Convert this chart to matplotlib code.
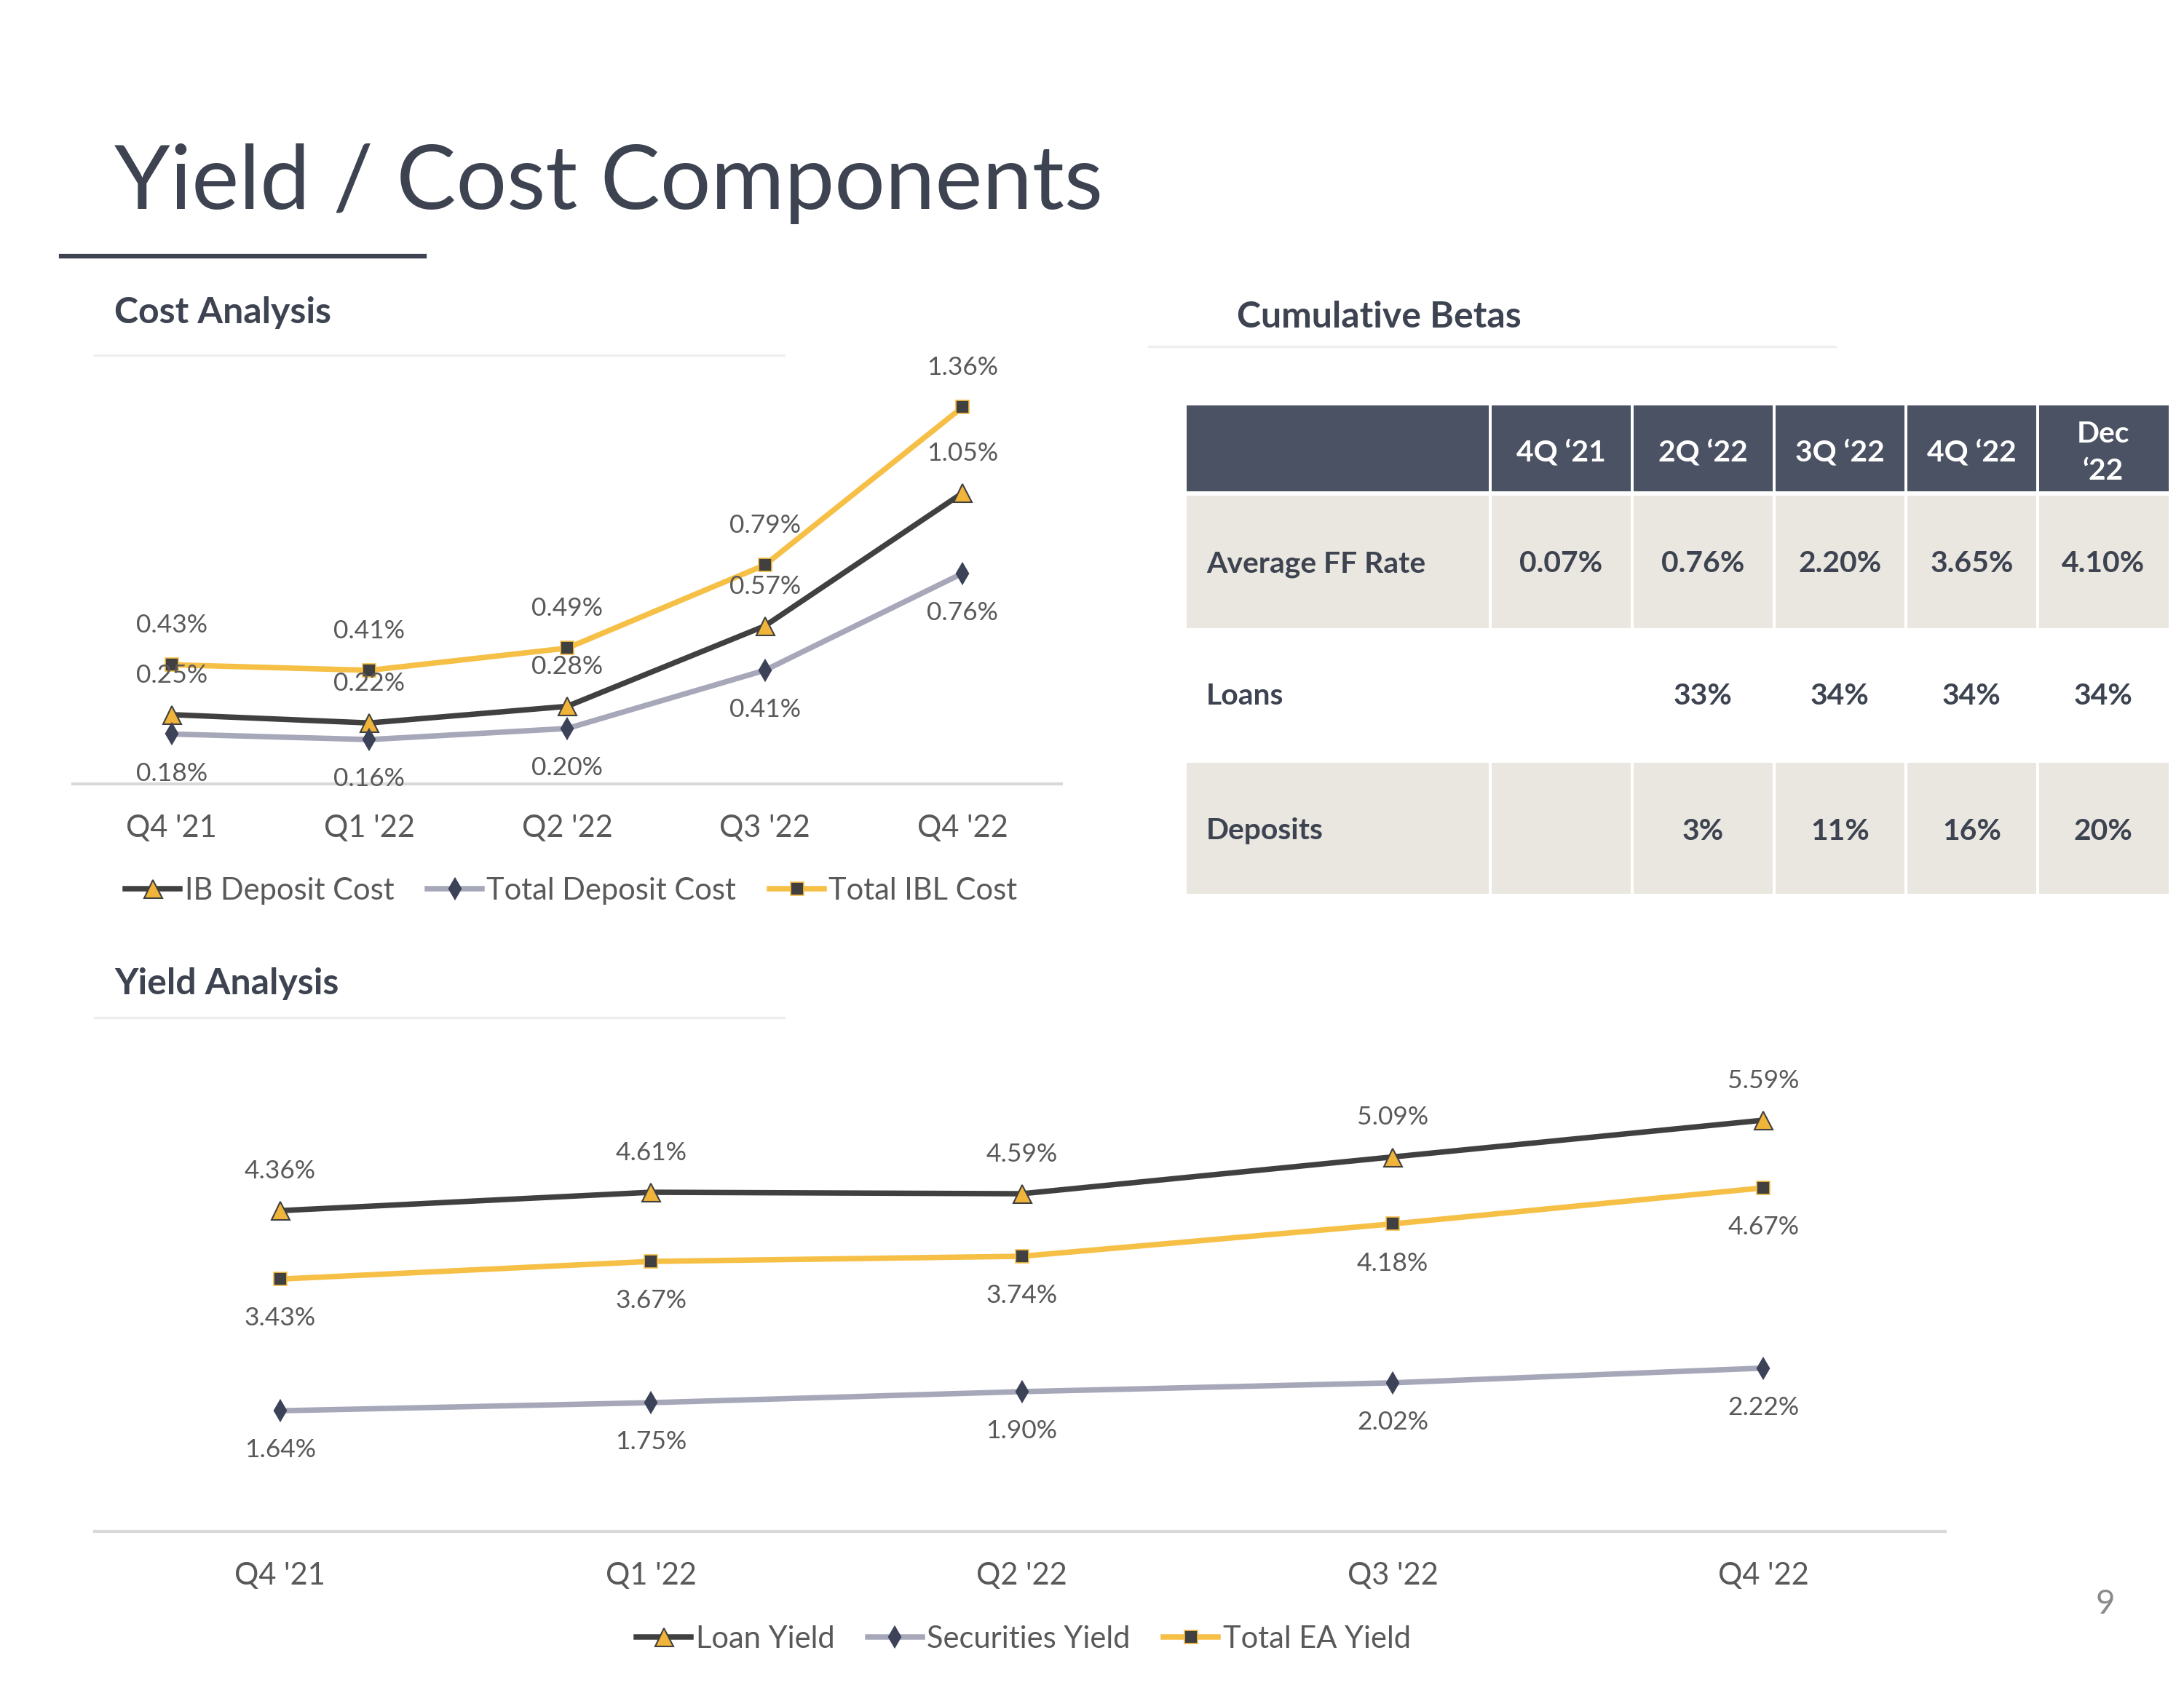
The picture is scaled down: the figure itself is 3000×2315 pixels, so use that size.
import matplotlib
matplotlib.use("Agg")
import matplotlib.pyplot as plt
from matplotlib.lines import Line2D
from matplotlib.patches import Rectangle

plt.rcParams['font.family'] = ['Lato', 'DejaVu Sans']

# ---------------- data ----------------
quarters = ["Q4 '21", "Q1 '22", "Q2 '22", "Q3 '22", "Q4 '22"]

ib_deposit_cost = [0.25, 0.22, 0.28, 0.57, 1.05]
total_deposit_cost = [0.18, 0.16, 0.20, 0.41, 0.76]
total_ibl_cost = [0.43, 0.41, 0.49, 0.79, 1.36]

loan_yield = [4.36, 4.61, 4.59, 5.09, 5.59]
securities_yield = [1.64, 1.75, 1.90, 2.02, 2.22]
total_ea_yield = [3.43, 3.67, 3.74, 4.18, 4.67]

beta_columns = ["4Q \u201821", "2Q \u201822", "3Q \u201822", "4Q \u201822", "Dec\n\u201822"]
beta_rows = ["Average FF Rate", "Loans", "Deposits"]
beta_ff_rate = ["0.07%", "0.76%", "2.20%", "3.65%", "4.10%"]
beta_loans = ["", "33%", "34%", "34%", "34%"]
beta_deposits = ["", "3%", "11%", "16%", "20%"]

# ---------------- style ----------------
W, H = 3000, 2315
DARK = "#404040"
LIGHTLINE = "#a6a8b9"
YELLOW = "#f6bf45"
TRI_FILL = "#f0b43a"
DIAMOND = "#3c4257"
TEXTGREY = "#595959"
HEAD = "#3d4350"
HEADER_FILL = "#4b5263"
ROW_FILL = "#e9e7e0"


def fx(x):
    return x / W


def fy(y):
    return 1 - y / H


fig = plt.figure(figsize=(10, H / 300), dpi=300)
fig.patch.set_facecolor("white")

# title + underline
fig.text(fx(157), fy(287), "Yield / Cost Components", fontsize=29.5, color=HEAD,
         va="baseline", ha="left")
fig.add_artist(Line2D([fx(84), fx(583)], [fy(352), fy(352)], color=HEAD, lw=1.5))

# section headings
for (x, y, txt, lx0, lx1, ly) in [
    (157, 430, "Cost Analysis", 130, 1077, 488),
    (1699, 436, "Cumulative Betas", 1578, 2521, 476),
    (157, 1352, "Yield Analysis", 130, 1077, 1398),
]:
    fig.text(fx(x), fy(y), txt, fontsize=12, fontweight="bold", color=HEAD,
             va="center", ha="left")
    fig.add_artist(Line2D([fx(lx0), fx(lx1)], [fy(ly), fy(ly)], color="#eeeeee", lw=0.8))


def style_axis(ax):
    for s in ["left", "right", "top"]:
        ax.spines[s].set_visible(False)
    ax.spines["bottom"].set_color("#d9d9d9")
    ax.spines["bottom"].set_linewidth(1.0)
    ax.set_yticks([])
    ax.set_xticks(range(len(quarters)))
    ax.set_xticklabels(quarters, fontsize=10, color=TEXTGREY)
    ax.tick_params(axis="x", length=0, pad=10)
    ax.set_xlim(-0.5, 4.5)
    ax.patch.set_alpha(0)


def labels(ax, vals, offset):
    for i, v in enumerate(vals):
        ax.annotate(f"{v:.2f}%", (i, v), xytext=(0, offset), textcoords="offset points",
                    ha="center", va="center", fontsize=8.5, color=TEXTGREY)


def draw_series(ax, a, b, c):
    x = range(len(quarters))
    l1, = ax.plot(x, a, color=DARK, lw=1.8, marker="^", ms=6,
                  mfc=TRI_FILL, mec=DARK, mew=0.5, zorder=3)
    l2, = ax.plot(x, b, color=LIGHTLINE, lw=1.8, marker="d", ms=4,
                  mfc=DIAMOND, mec=DIAMOND, zorder=3)
    l3, = ax.plot(x, c, color=YELLOW, lw=1.8, marker="s", ms=4.4,
                  mfc=DARK, mec=YELLOW, mew=0.4, zorder=3)
    return l1, l2, l3


# ---------------- cost chart ----------------
ax1 = fig.add_axes([fx(100), fy(1077), (1458 - 100) / W, 571 / H])
h = draw_series(ax1, ib_deposit_cost, total_deposit_cost, total_ibl_cost)
ax1.set_ylim(0, 1.5)
style_axis(ax1)
labels(ax1, total_ibl_cost, 13)
labels(ax1, ib_deposit_cost, 13)
labels(ax1, total_deposit_cost, -13)
ax1.legend(h, ["IB Deposit Cost", "Total Deposit Cost", "Total IBL Cost"], ncol=3,
           loc="center", bbox_to_anchor=(fx(785), fy(1224)), bbox_transform=fig.transFigure,
           frameon=False, fontsize=10, labelcolor=TEXTGREY, handlelength=1.8,
           handletextpad=0.15, columnspacing=1.1)

# ---------------- yield chart ----------------
ax2 = fig.add_axes([fx(130), fy(2104), (2672 - 130) / W, 657 / H])
h2 = draw_series(ax2, loan_yield, securities_yield, total_ea_yield)
ax2.set_ylim(0, 6.5)
style_axis(ax2)
ax2.set_xlim(-0.5, 4.49)
labels(ax2, loan_yield, 13)
labels(ax2, total_ea_yield, -13)
labels(ax2, securities_yield, -13)
ax2.legend(h2, ["Loan Yield", "Securities Yield", "Total EA Yield"], ncol=3,
           loc="center", bbox_to_anchor=(fx(1406), fy(2252)), bbox_transform=fig.transFigure,
           frameon=False, fontsize=10, labelcolor=TEXTGREY, handlelength=1.8,
           handletextpad=0.15, columnspacing=1.1)

# ---------------- table ----------------
axt = fig.add_axes([0, 0, 1, 1])
axt.set_xlim(0, W)
axt.set_ylim(H, 0)
axt.axis("off")
axt.patch.set_alpha(0)

col_edges = [1630, 2047, 2242, 2437, 2618, 2799, 2979]
row_edges = [557, 675, 863, 1048, 1228]
gap = 4
row_fills = [HEADER_FILL, ROW_FILL, "white", ROW_FILL]
for r in range(4):
    y0 = row_edges[r] + (6 if r == 1 else 0)
    y1 = row_edges[r + 1]
    for c in range(6):
        x0 = col_edges[c] + (gap / 2 if c > 0 else 0)
        x1 = col_edges[c + 1] - (gap / 2 if c < 5 else 0)
        axt.add_patch(Rectangle((x0, y0), x1 - x0, y1 - y0, facecolor=row_fills[r],
                                edgecolor="none"))

tfs = 9.8
for c, lab in enumerate(beta_columns):
    cx = (col_edges[c + 1] + col_edges[c + 2]) / 2
    axt.text(cx, 622, lab, ha="center", va="center", fontsize=tfs, fontweight="bold",
             color="white", linespacing=1.45)

row_centers = [775, 957, 1142]
for r, (name, vals) in enumerate(zip(beta_rows, [beta_ff_rate, beta_loans, beta_deposits])):
    axt.text(1657, row_centers[r], name, ha="left", va="center", fontsize=tfs,
             fontweight="bold", color=HEAD)
    for c, v in enumerate(vals):
        cx = (col_edges[c + 1] + col_edges[c + 2]) / 2
        axt.text(cx, row_centers[r], v, ha="center", va="center", fontsize=tfs,
                 fontweight="bold", color=HEAD)

# page number
fig.text(fx(2892), fy(2204), "9", fontsize=11, color="#8a8a8a", ha="center", va="center")

fig.savefig("out.png", dpi=300, facecolor="white")
